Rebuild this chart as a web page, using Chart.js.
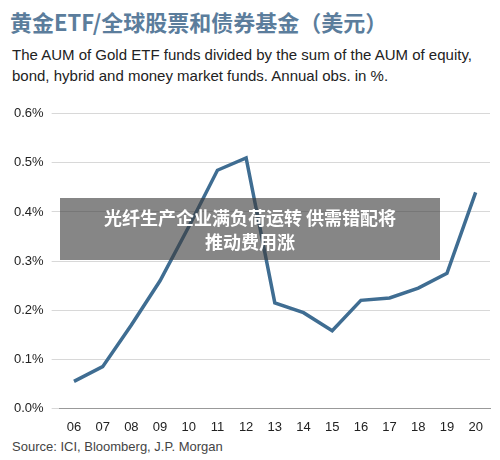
<!DOCTYPE html>
<html><head><meta charset="utf-8">
<script src="https://cdn.jsdelivr.net/npm/chart.js@4"></script>
<style>
body{margin:0;width:500px;height:460px;background:#fff;font-family:"Liberation Sans",Arial,sans-serif;position:relative;overflow:hidden}
#title{position:absolute;left:10px;top:5px;font-size:22px;font-weight:bold;color:#5b7d9c;font-family:"Noto Sans CJK SC",sans-serif}
#sub{position:absolute;left:12px;top:44px;font-size:15px;line-height:21px;color:#222}
#wrap{position:absolute;left:0;top:98px;width:500px;height:340px}
#src{position:absolute;left:12px;top:439px;font-size:13px;color:#444}
#banner{position:absolute;left:60px;top:198px;width:380px;height:62px;background:rgba(60,60,60,0.62);color:#fff;font-family:"Noto Sans CJK SC",sans-serif;font-weight:bold;font-size:18px;text-align:center;line-height:24px;padding-top:7px;box-sizing:border-box}
</style></head><body>
<div id="title">黄金ETF/全球股票和债券基金（美元）</div>
<div id="sub">The AUM of Gold ETF funds divided by the sum of the AUM of equity,<br>bond, hybrid and money market funds. Annual obs. in %.</div>
<div id="wrap"><canvas id="c"></canvas></div>
<div id="src">Source: ICI, Bloomberg, J.P. Morgan</div>
<div id="banner">光纤生产企业满负荷运转 供需错配将<br>推动费用涨</div>
<script>
const years = ['06','07','08','09','10','11','12','13','14','15','16','17','18','19','20'];
const ratio = [0.055,0.085,0.17,0.26,0.37,0.485,0.51,0.215,0.195,0.158,0.22,0.225,0.245,0.275,0.44];
const yTicks = [0,0.1,0.2,0.3,0.4,0.5,0.6];

new Chart(document.getElementById('c'), {
  type: 'line',
  data: {labels: years, datasets: [{data: ratio, borderColor: '#3f6d92', borderWidth: 3.5, pointRadius: 0, tension: 0}]},
  options: {
    responsive: true, maintainAspectRatio: false, animation: false,
    layout: {padding: {left: 6, right: 10, top: 4, bottom: 0}},
    plugins: {legend: {display: false}, tooltip: {enabled: false}},
    scales: {
      x: {offset: true, grid: {display: false}, border: {color: '#999'},
          ticks: {color: '#222', font: {size: 13, family: 'Liberation Sans'}}},
      y: {min: 0, max: 0.6, afterBuildTicks: a => { a.ticks = yTicks.map(v => ({value: v})); },
          grid: {color: '#d8d8d8'}, border: {display: false},
          ticks: {color: '#222', padding: 8, font: {size: 13, family: 'Liberation Sans'}, callback: v => v.toFixed(1) + '%'}}
    }
  }
});
</script>
</body></html>
